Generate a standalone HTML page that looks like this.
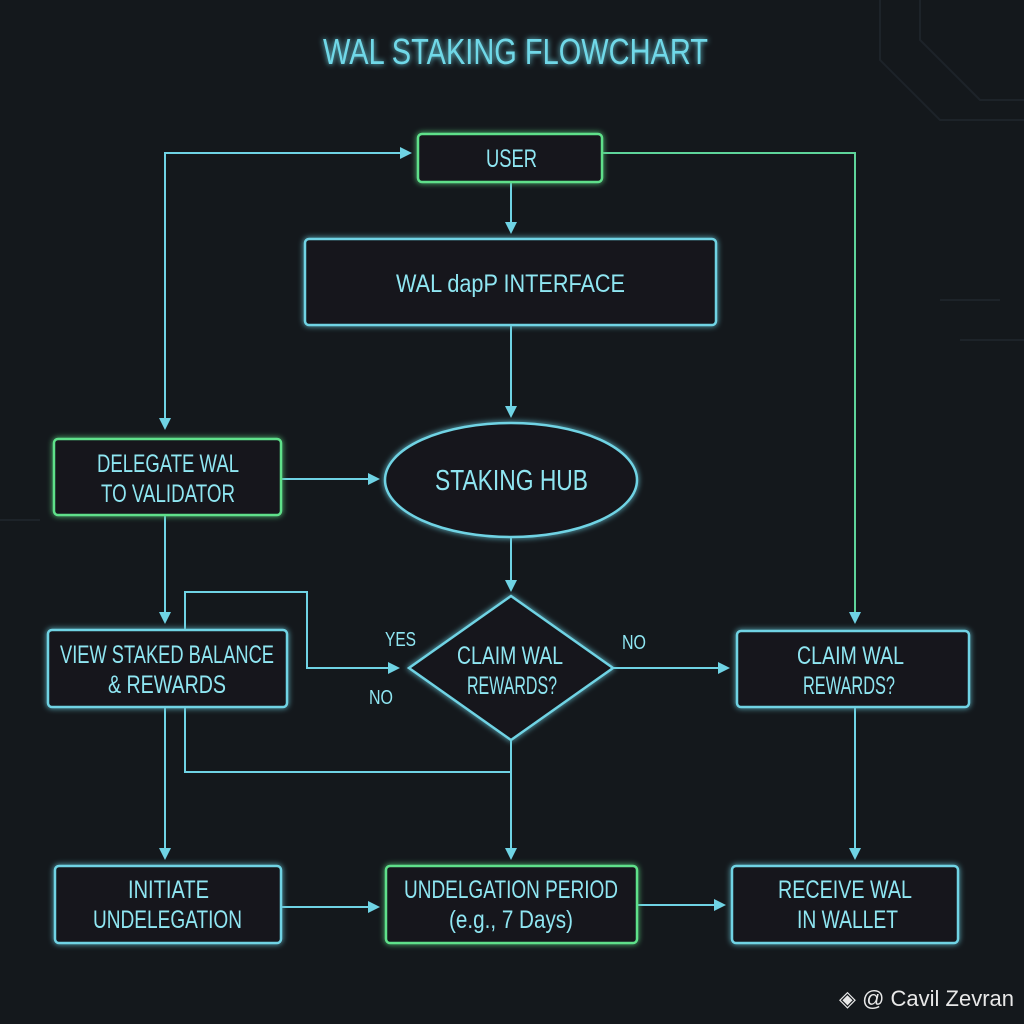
<!DOCTYPE html>
<html><head><meta charset="utf-8"><style>
html,body{margin:0;padding:0;background:#14181c;}
svg{display:block}
text{font-family:"Liberation Sans",sans-serif;}
</style></head><body>
<svg width="1024" height="1024" viewBox="0 0 1024 1024" xmlns="http://www.w3.org/2000/svg">
<defs>
<filter id="g" x="-20%" y="-20%" width="140%" height="140%"><feGaussianBlur stdDeviation="3" result="b"/><feMerge><feMergeNode in="b"/><feMergeNode in="SourceGraphic"/></feMerge></filter>
<marker id="a" markerWidth="12" markerHeight="12" refX="10" refY="6" orient="auto" markerUnits="userSpaceOnUse"><path d="M0,0 L12,6 L0,12 z" fill="#6fd3e4"/></marker>
</defs>
<rect width="1024" height="1024" fill="#14181c"/>
<g stroke="#1d2329" stroke-width="2" fill="none">
<path d="M880,0 L880,60 L940,120 L1024,120"/><path d="M920,0 L920,40 L980,100 L1024,100"/><path d="M960,340 L1024,340"/><path d="M940,300 L1000,300"/><path d="M0,520 L40,520"/>
</g>
<text x="323" y="64" textLength="385" lengthAdjust="spacingAndGlyphs" fill="#6fd8e8" font-size="36" filter="url(#g)">WAL STAKING FLOWCHART</text>
<g stroke="#6fd3e4" stroke-width="2" fill="none">
<path d="M165,428 L165,153 L410,153" marker-end="url(#a)"/>
<path d="M165,153 L165,428" marker-end="url(#a)"/>
<path d="M602,153 L855,153 L855,622" stroke="#5ed49a" marker-end="url(#a)"/>
<path d="M511,182 L511,232" marker-end="url(#a)"/>
<path d="M511,325 L511,416" marker-end="url(#a)"/>
<path d="M281,479 L378,479" marker-end="url(#a)"/>
<path d="M511,537 L511,590" marker-end="url(#a)"/>
<path d="M165,515 L165,622" marker-end="url(#a)"/>
<path d="M185,630 L185,592 L307,592 L307,668 L398,668" marker-end="url(#a)"/>
<path d="M185,707 L185,772 L511,772"/>
<path d="M511,740 L511,858" marker-end="url(#a)"/>
<path d="M613,668 L728,668" marker-end="url(#a)"/>
<path d="M165,707 L165,858" marker-end="url(#a)"/>
<path d="M855,707 L855,858" marker-end="url(#a)"/>
<path d="M281,907 L378,907" marker-end="url(#a)"/>
<path d="M637,905 L724,905" marker-end="url(#a)"/>
</g>
<g fill="#14181c" stroke-width="2.5" filter="url(#g)">
<rect x="418" y="134" width="184" height="48" rx="4" stroke="#5fe08a"/>
<rect x="305" y="239" width="411" height="86" rx="4" stroke="#6fd3e4"/>
<ellipse cx="511" cy="480" rx="126" ry="57" stroke="#6fd3e4"/>
<rect x="54" y="439" width="227" height="76" rx="4" stroke="#5fe08a"/>
<path d="M511,596 L613,668 L511,740 L409,668 Z" stroke="#6fd3e4"/>
<rect x="48" y="630" width="239" height="77" rx="4" stroke="#6fd3e4"/>
<rect x="737" y="631" width="232" height="76" rx="4" stroke="#6fd3e4"/>
<rect x="55" y="866" width="226" height="77" rx="4" stroke="#6fd3e4"/>
<rect x="386" y="866" width="251" height="77" rx="4" stroke="#5fe08a"/>
<rect x="732" y="866" width="226" height="77" rx="4" stroke="#6fd3e4"/>
</g>
<g fill="#8fe6f2" font-size="25" lengthAdjust="spacingAndGlyphs">
<text x="486" y="167" textLength="51" lengthAdjust="spacingAndGlyphs">USER</text>
<text x="396" y="292" textLength="229" lengthAdjust="spacingAndGlyphs">WAL dapP INTERFACE</text>
<text x="435" y="490" font-size="29" textLength="153" lengthAdjust="spacingAndGlyphs">STAKING HUB</text>
<text x="97" y="472" textLength="142" lengthAdjust="spacingAndGlyphs">DELEGATE WAL</text>
<text x="101" y="502" textLength="134" lengthAdjust="spacingAndGlyphs">TO VALIDATOR</text>
<text x="457" y="664" textLength="106" lengthAdjust="spacingAndGlyphs">CLAIM WAL</text>
<text x="467" y="694" textLength="90" lengthAdjust="spacingAndGlyphs">REWARDS?</text>
<text x="60" y="663" textLength="214" lengthAdjust="spacingAndGlyphs">VIEW STAKED BALANCE</text>
<text x="108" y="693" textLength="118" lengthAdjust="spacingAndGlyphs">&amp; REWARDS</text>
<text x="797" y="664" textLength="107" lengthAdjust="spacingAndGlyphs">CLAIM WAL</text>
<text x="803" y="694" textLength="92" lengthAdjust="spacingAndGlyphs">REWARDS?</text>
<text x="128" y="898" textLength="81" lengthAdjust="spacingAndGlyphs">INITIATE</text>
<text x="93" y="928" textLength="149" lengthAdjust="spacingAndGlyphs">UNDELEGATION</text>
<text x="404" y="898" textLength="214" lengthAdjust="spacingAndGlyphs">UNDELGATION PERIOD</text>
<text x="449" y="928" textLength="124" lengthAdjust="spacingAndGlyphs">(e.g., 7 Days)</text>
<text x="778" y="898" textLength="134" lengthAdjust="spacingAndGlyphs">RECEIVE WAL</text>
<text x="797" y="928" textLength="101" lengthAdjust="spacingAndGlyphs">IN WALLET</text>
<text x="385" y="646" font-size="20" textLength="31" lengthAdjust="spacingAndGlyphs">YES</text>
<text x="369" y="704" font-size="20" textLength="24" lengthAdjust="spacingAndGlyphs">NO</text>
<text x="622" y="649" font-size="20" textLength="24" lengthAdjust="spacingAndGlyphs">NO</text>
</g>
<text x="1014" y="1006" fill="#e8e8e8" font-size="22" text-anchor="end">◈ @ Cavil Zevran</text>
</svg>
</body></html>
